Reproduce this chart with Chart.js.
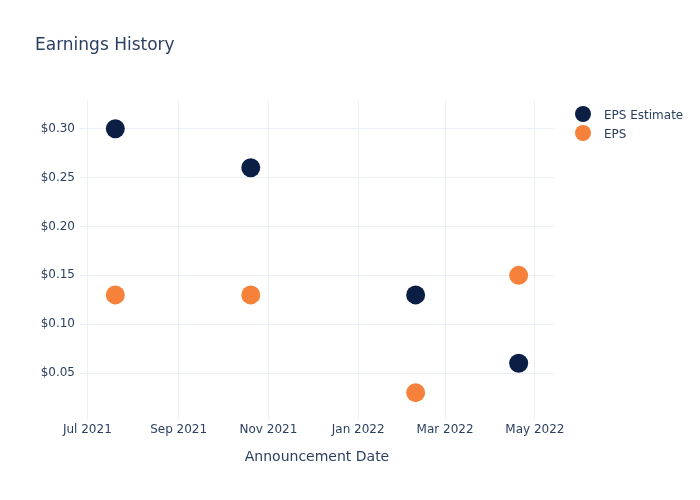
<!DOCTYPE html>
<html>
<head>
<meta charset="utf-8">
<script src="https://cdn.jsdelivr.net/npm/chart.js@4"></script>
<style>
    body { margin: 0; background: #fff; }
    #wrap { position: relative; width: 700px; height: 500px; }
    #legend { position: absolute; left: 575px; top: 106px; font: 12px "DejaVu Sans", sans-serif; color: #2a3f5f; }
    #legend div { height: 19px; line-height: 19px; white-space: nowrap; }
    #legend span.dot { display: inline-block; width: 16px; height: 16px; border-radius: 50%; vertical-align: middle; margin-right: 13px; margin-top: -3px; }
</style>
</head>
<body>
<div id="wrap">
    <canvas id="chart" width="700" height="500"></canvas>
    <div id="legend"></div>
</div>
<script>
// announcement dates (year, month 0-based, day)
let announceDates = [[2021, 6, 20], [2021, 9, 20], [2022, 1, 9], [2022, 3, 20]];
let epsEstimate = [0.30, 0.26, 0.13, 0.06];
let epsActual = [0.13, 0.13, 0.03, 0.15];
let tickDates = [[2021, 6, 1], [2021, 8, 1], [2021, 10, 1], [2022, 0, 1], [2022, 2, 1], [2022, 4, 1]];
let tickLabels = ["Jul 2021", "Sep 2021", "Nov 2021", "Jan 2022", "Mar 2022", "May 2022"];

let toTime = function(d) {
    return Date.UTC(d[0], d[1], d[2]);
};

let font = "'DejaVu Sans', sans-serif";
let textColor = "#2a3f5f";
let gridColor = "#ebf0f8";

let datasets = [
    { label: "EPS Estimate", color: "#0b1f44", values: epsEstimate },
    { label: "EPS", color: "#f5813a", values: epsActual }
];

let context = document.querySelector("#chart").getContext("2d");
new Chart(context, {
    type: "scatter",
    data: {
        datasets: datasets.map(function(ds) {
            return {
                label: ds.label,
                data: ds.values.map(function(v, i) { return { x: toTime(announceDates[i]), y: v }; }),
                backgroundColor: ds.color,
                borderColor: ds.color,
                pointRadius: 9.5,
                pointHoverRadius: 9.5,
                borderWidth: 0
            };
        })
    },
    options: {
        responsive: false,
        animation: false,
        layout: { padding: { left: 35, right: 146, top: 0, bottom: 0 } },
        plugins: {
            legend: { display: false },
            tooltip: { enabled: false },
            title: {
                display: true,
                text: "Earnings History",
                align: "start",
                color: textColor,
                font: { family: font, size: 17, weight: "normal" },
                padding: { top: 35, bottom: 45 }
            }
        },
        scales: {
            x: {
                type: "linear",
                min: toTime([2021, 5, 26]),
                max: toTime([2022, 4, 14]),
                afterBuildTicks: function(scale) {
                    scale.ticks = tickDates.map(function(d) { return { value: toTime(d) }; });
                },
                afterFit: function(scale) { scale.height = 80; },
                grid: { color: gridColor, drawTicks: false },
                border: { display: false },
                ticks: {
                    color: textColor,
                    font: { family: font, size: 12 },
                    padding: 3,
                    maxRotation: 0,
                    autoSkip: false,
                    callback: function(value, index) { return tickLabels[index]; }
                },
                title: {
                    display: true,
                    text: "Announcement Date",
                    color: textColor,
                    font: { family: font, size: 14 },
                    padding: { bottom: 34 }
                }
            },
            y: {
                min: 0.002,
                max: 0.329,
                afterFit: function(scale) { scale.width = 45; },
                grid: { color: gridColor, drawTicks: false },
                border: { display: false },
                ticks: {
                    stepSize: 0.05,
                    includeBounds: false,
                    color: textColor,
                    font: { family: font, size: 12 },
                    padding: 5,
                    callback: function(value) { return "$" + value.toFixed(2); }
                }
            }
        }
    }
});

// legend
let legend = document.querySelector("#legend");
datasets.forEach(function(ds) {
    let row = document.createElement("div");
    let dot = document.createElement("span");
    dot.className = "dot";
    dot.style.background = ds.color;
    row.appendChild(dot);
    row.appendChild(document.createTextNode(ds.label));
    legend.appendChild(row);
});
</script>
</body>
</html>
